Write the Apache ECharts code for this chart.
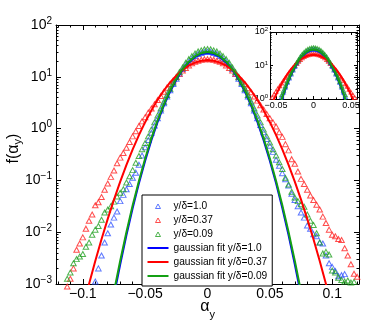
<!DOCTYPE html>
<html>
<head>
<meta charset="utf-8">
<script src="https://cdn.jsdelivr.net/npm/echarts@6/dist/echarts.min.js"></script>
<style>
  html, body { margin: 0; padding: 0; background: #fff; }
  #chart { width: 374px; height: 328px; }
</style>
</head>
<body>
<div id="chart"></div>
<script>
// bin centres of the measured pdfs (alpha_y)
const alphaBins = [
  -0.1125, -0.11, -0.1075, -0.105, -0.1025, -0.1, -0.0975, -0.095, -0.0925, -0.09,
  -0.0875, -0.085, -0.0825, -0.08, -0.0775, -0.075, -0.0725, -0.07, -0.0675, -0.065,
  -0.0625, -0.06, -0.0575, -0.055, -0.0525, -0.05, -0.0475, -0.045, -0.0425, -0.04,
  -0.0375, -0.035, -0.0325, -0.03, -0.0275, -0.025, -0.0225, -0.02, -0.0175, -0.015,
  -0.0125, -0.01, -0.0075, -0.005, -0.0025, 0, 0.0025, 0.005, 0.0075, 0.01,
  0.0125, 0.015, 0.0175, 0.02, 0.0225, 0.025, 0.0275, 0.03, 0.0325, 0.035,
  0.0375, 0.04, 0.0425, 0.045, 0.0475, 0.05, 0.0525, 0.055, 0.0575, 0.06,
  0.0625, 0.065, 0.0675, 0.07, 0.0725, 0.075, 0.0775, 0.08, 0.0825, 0.085,
  0.0875, 0.09, 0.0925, 0.095, 0.0975, 0.1, 0.1025, 0.105, 0.1075, 0.11,
  0.1125, 0.115, 0.1175, 0.12
];

// y/delta = 1.0
const pdfBlue = [
  null, null, null, null, null, null, null, null, null, 0.00112,
  0.00200, 0.00355, 0.00631, 0.00955, 0.0141, 0.0191, 0.0251, 0.0398, 0.0525, 0.0676,
  0.0851, 0.112, 0.141, 0.200, 0.302, 0.437, 0.603, 0.832, 1.15, 1.58,
  2.24, 3.09, 4.17, 5.50, 7.24, 9.12, 11.5, 14.1, 17.0, 19.5,
  22.4, 25.1, 27.5, 28.8, 30.2, 30.5, 30.2, 28.8, 27.5, 25.1,
  22.4, 19.5, 17.0, 14.1, 11.5, 9.12, 7.24, 5.50, 4.17, 3.09,
  2.24, 1.58, 1.17, 0.851, 0.631, 0.468, 0.355, 0.251, 0.191, 0.138,
  0.105, 0.0794, 0.0550, 0.0417, 0.0316, 0.0240, 0.0191, 0.0135, 0.0117, 0.00912,
  0.00832, 0.00631, 0.00603, 0.00355, 0.00251, 0.00214, 0.00178, 0.00141, 0.00148, 0.00155,
  null, null, null, null
];

// y/delta = 0.37
const pdfRed = [
  0.000891, 0.00126, 0.00200, 0.00457, 0.00603, 0.00794, 0.0117, 0.0166, 0.0219, 0.0331,
  0.0380, 0.0479, 0.0661, 0.0871, 0.117, 0.155, 0.214, 0.275, 0.339, 0.427,
  0.550, 0.708, 0.891, 1.12, 1.38, 1.66, 2.04, 2.45, 2.95, 3.55,
  4.27, 5.13, 6.17, 7.24, 8.51, 10.0, 11.5, 13.2, 14.8, 16.6,
  18.2, 19.5, 20.4, 21.4, 21.9, 21.9, 21.9, 21.4, 20.4, 19.5,
  18.2, 16.6, 14.8, 13.2, 11.5, 10.0, 8.51, 7.24, 6.03, 5.01,
  4.17, 3.47, 2.82, 2.34, 1.91, 1.58, 1.32, 1.10, 0.851, 0.692,
  0.501, 0.380, 0.257, 0.209, 0.148, 0.107, 0.0851, 0.0661, 0.0513, 0.0417,
  0.0339, 0.0275, 0.0200, 0.0151, 0.0112, 0.00891, 0.00832, 0.00741, 0.00708, 0.00490,
  0.00355, 0.00240, 0.00158, 0.00138
];

// y/delta = 0.09
const pdfGreen = [
  0.00126, 0.00166, 0.00251, 0.00302, 0.00339, 0.00380, 0.00525, 0.00631, 0.00891, 0.0112,
  0.0132, 0.0174, 0.0240, 0.0275, 0.0316, 0.0389, 0.0490, 0.0575, 0.0676, 0.0912,
  0.120, 0.158, 0.219, 0.295, 0.398, 0.525, 0.708, 0.955, 1.32, 1.78,
  2.45, 3.31, 4.47, 5.89, 7.76, 9.77, 12.3, 15.1, 18.6, 21.9,
  25.1, 28.2, 30.9, 32.4, 33.9, 34.3, 33.9, 32.4, 30.9, 28.2,
  25.1, 21.9, 18.6, 15.1, 12.3, 9.77, 7.76, 5.89, 4.47, 3.31,
  2.45, 1.78, 1.32, 0.955, 0.708, 0.537, 0.398, 0.302, 0.224, 0.166,
  0.112, 0.0832, 0.0603, 0.0468, 0.0398, 0.0347, 0.0309, 0.0219, 0.0166, 0.0138,
  0.00955, 0.00631, 0.00389, 0.00417, 0.00372, 0.00182, 0.00166, 0.00132, 0.00120, 0.00112,
  0.00117, 0.00107, 0.00110, null
];

// gaussian fits
const fitX = [
  -0.105, -0.1, -0.095, -0.09, -0.085, -0.08, -0.075, -0.07, -0.065, -0.06, -0.055,
  -0.05, -0.045, -0.04, -0.035, -0.03, -0.025, -0.02, -0.015, -0.01, -0.005, 0,
  0.005, 0.01, 0.015, 0.02, 0.025, 0.03, 0.035, 0.04, 0.045, 0.05,
  0.055, 0.06, 0.065, 0.07, 0.075, 0.08, 0.085, 0.09, 0.095, 0.1, 0.105
];
const fitBlue = [
  null, null, null, null, null, 0.000136, 0.000601, 0.00241, 0.00881, 0.0292, 0.0879,
  0.240, 0.597, 1.35, 2.77, 5.16, 8.75, 13.5, 18.8, 23.9, 27.6, 29.0,
  27.6, 23.9, 18.8, 13.5, 8.75, 5.16, 2.77, 1.35, 0.597, 0.240,
  0.0879, 0.0292, 0.00881, 0.00241, 0.000601, 0.000136, null, null, null, null, null
];
const fitRed = [
  0.000110, 0.000342, 0.00100, 0.00278, 0.00729, 0.0181, 0.0426, 0.0946, 0.199, 0.396, 0.748,
  1.33, 2.25, 3.60, 5.44, 7.78, 10.5, 13.5, 16.4, 18.8, 20.4, 21.0,
  20.4, 18.8, 16.4, 13.5, 10.5, 7.78, 5.44, 3.60, 2.25, 1.33,
  0.748, 0.396, 0.199, 0.0946, 0.0426, 0.0181, 0.00729, 0.00278, 0.00100, 0.000342, 0.000110
];
const fitGreen = [
  null, null, null, null, null, 0.000164, 0.000713, 0.00281, 0.0101, 0.0330, 0.0977,
  0.264, 0.649, 1.45, 2.95, 5.46, 9.18, 14.1, 19.6, 24.8, 28.6, 30.0,
  28.6, 24.8, 19.6, 14.1, 9.18, 5.46, 2.95, 1.45, 0.649, 0.264,
  0.0977, 0.0330, 0.0101, 0.00281, 0.000713, 0.000164, null, null, null, null, null
];

// ticks
const xTicks = [-0.1, -0.05, 0, 0.05, 0.1];
const xMinor = [-0.12, -0.11, -0.1, -0.09, -0.08, -0.07, -0.06, -0.05, -0.04, -0.03, -0.02, -0.01, 0,
  0.01, 0.02, 0.03, 0.04, 0.05, 0.06, 0.07, 0.08, 0.09, 0.1, 0.11, 0.12];
const yDecades = [1e-3, 1e-2, 1e-1, 1, 10, 100];
const yMinor = [2e-3, 3e-3, 4e-3, 5e-3, 6e-3, 7e-3, 8e-3, 9e-3,
  0.02, 0.03, 0.04, 0.05, 0.06, 0.07, 0.08, 0.09,
  0.2, 0.3, 0.4, 0.5, 0.6, 0.7, 0.8, 0.9,
  2, 3, 4, 5, 6, 7, 8, 9,
  20, 30, 40, 50, 60, 70, 80, 90];
const insetXTicks = [-0.05, 0, 0.05];
const insetXMinor = [-0.05, -0.04, -0.03, -0.02, -0.01, 0, 0.01, 0.02, 0.03, 0.04, 0.05];
const insetDecades = [1, 10, 100];
const insetYMinor = [2, 3, 4, 5, 6, 7, 8, 9, 20, 30, 40, 50, 60, 70, 80, 90];

const names = ['y/δ=1.0', 'y/δ=0.37', 'y/δ=0.09',
  'gaussian fit y/δ=1.0', 'gaussian fit y/δ=0.37', 'gaussian fit y/δ=0.09'];
const colors = { blue: '#3355ff', red: '#ff2020', green: '#22a022' };
const lineColors = { blue: '#0000ff', red: '#ff0000', green: '#14a014' };
const font = 'Liberation Sans, Arial, sans-serif';

const pairs = (xs, ys) => xs.map((x, i) => ys[i] == null ? null : [x, ys[i]]).filter(Boolean);
const minus = v => (v < 0 ? '\u2212' + (-v) : String(v));

const chart = echarts.init(document.getElementById('chart'));

function xAx(grid, pos, range, ticks, len, label, line) {
  return {
    type: 'value', gridIndex: grid, position: pos, min: range[0], max: range[1],
    axisLine: { show: line, onZero: false, lineStyle: { color: '#000', width: 1 } },
    axisTick: { show: true, inside: true, length: len, customValues: ticks, lineStyle: { color: '#000', width: 1 } },
    axisLabel: label || { show: false },
    splitLine: { show: false }
  };
}
function yAx(grid, pos, range, ticks, len, label, line) {
  return {
    type: 'log', logBase: 10, gridIndex: grid, position: pos, min: range[0], max: range[1],
    axisLine: { show: line, onZero: false, lineStyle: { color: '#000', width: 1 } },
    axisTick: { show: true, inside: true, length: len, customValues: ticks, lineStyle: { color: '#000', width: 1 } },
    axisLabel: label || { show: false },
    splitLine: { show: false }
  };
}
function decadeLabel(fs, values, margin) {
  return {
    show: true, margin: margin, customValues: values,
    formatter: v => {
      const e = Math.round(Math.log10(v));
      return '{b|10}{e|' + minus(e) + '}';
    },
    rich: {
      b: { fontFamily: font, fontSize: fs, color: '#000' },
      e: { fontFamily: font, fontSize: Math.round(fs * 0.7), color: '#000', verticalAlign: 'top', padding: [0, 0, Math.round(fs * 0.6), 0] }
    }
  };
}
function tickLabel(fs, values, margin) {
  return { show: true, margin: margin, customValues: values, fontFamily: font, fontSize: fs, color: '#000', formatter: minus };
}

const mainX = [-0.1215, 0.1215];
const mainY = [1e-3, 100];
const insX = [-0.058, 0.058];
const insY = [1, 100];

const xAxes = [
  xAx(0, 'bottom', mainX, xTicks, 5, tickLabel(14, xTicks, 3), true),
  xAx(0, 'top', mainX, xTicks, 5, null, true),
  xAx(0, 'bottom', mainX, xMinor, 2.5, null, false),
  xAx(0, 'top', mainX, xMinor, 2.5, null, false),
  xAx(1, 'bottom', insX, insetXTicks, 3, tickLabel(9, insetXTicks, 2), true),
  xAx(1, 'top', insX, insetXTicks, 3, null, true),
  xAx(1, 'bottom', insX, insetXMinor, 1.5, null, false),
  xAx(1, 'top', insX, insetXMinor, 1.5, null, false)
];
Object.assign(xAxes[0], {
  name: '{a|α}{s|y}', nameLocation: 'middle', nameGap: 15, nameMoveOverlap: false,
  nameTextStyle: {
    rich: {
      a: { fontFamily: font, fontSize: 16, color: '#000', verticalAlign: 'top' },
      s: { fontFamily: font, fontSize: 11, color: '#000', verticalAlign: 'bottom', padding: [10, 0, 0, 0] }
    }
  }
});

const yAxes = [
  yAx(0, 'left', mainY, yDecades, 5, decadeLabel(14, yDecades, 4), true),
  yAx(0, 'right', mainY, yDecades, 5, null, true),
  yAx(0, 'left', mainY, yMinor, 2.5, null, false),
  yAx(0, 'right', mainY, yMinor, 2.5, null, false),
  yAx(1, 'left', insY, insetDecades, 3, decadeLabel(9, insetDecades, 2), true),
  yAx(1, 'right', insY, insetDecades, 3, null, true),
  yAx(1, 'left', insY, insetYMinor, 1.5, null, false),
  yAx(1, 'right', insY, insetYMinor, 1.5, null, false)
];
Object.assign(yAxes[0], {
  name: '{a|f(α}{s|y}{a|)}', nameLocation: 'middle', nameRotate: 90, nameGap: 33, nameMoveOverlap: false,
  nameTextStyle: {
    padding: [0, 0, 0, 12],
    rich: {
      a: { fontFamily: font, fontSize: 16, color: '#000', verticalAlign: 'top' },
      s: { fontFamily: font, fontSize: 11, color: '#000', verticalAlign: 'bottom', padding: [6, 0, 0, 0] }
    }
  }
});

function scatter(name, ys, color, xi, size, clip) {
  return {
    name: name, type: 'scatter', xAxisIndex: xi, yAxisIndex: xi,
    data: pairs(alphaBins, ys), symbol: 'triangle', symbolSize: size, clip: clip,
    itemStyle: { color: 'rgba(0,0,0,0)', borderColor: color, borderWidth: 1 },
    z: 2
  };
}
function fit(name, ys, color, xi, width) {
  return {
    name: name, type: 'line', xAxisIndex: xi, yAxisIndex: xi,
    data: pairs(fitX, ys), symbol: 'none', showSymbol: false, clip: true,
    lineStyle: { color: color, width: width }, itemStyle: { color: color },
    z: 3
  };
}

// legend icons in a 21x6 box: small hollow triangle centred, or a 2px line
const triIcon = 'path://M0,0 M21,6 M8,5.5 L10.5,1 L13,5.5 Z';
const lineIcon = 'path://M0,2 L21,2 L21,4 L0,4 Z M0,0 M21,6';
const markerColors = [colors.blue, colors.red, colors.green];
const fitColors = [lineColors.blue, lineColors.red, lineColors.green];

chart.setOption({
  animation: false,
  backgroundColor: '#fff',
  textStyle: { fontFamily: font },
  grid: [
    { left: 56, top: 25, width: 303, height: 259, containLabel: false, outerBoundsMode: 'none' },
    { left: 270, top: 32, width: 87, height: 67, containLabel: false, outerBoundsMode: 'none', show: true, backgroundColor: '#fff', borderWidth: 0 }
  ],
  xAxis: xAxes,
  yAxis: yAxes,
  legend: {
    orient: 'vertical', left: 142, top: 195,
    data: names.map((n, i) => (i < 3
      ? { name: n, icon: triIcon, itemStyle: { color: 'rgba(0,0,0,0)', borderColor: markerColors[i], borderWidth: 1 } }
      : { name: n, icon: lineIcon, itemStyle: { color: fitColors[i - 3], borderWidth: 0 } })),
    selectedMode: false,
    itemWidth: 21, itemHeight: 6, itemGap: 4,
    padding: [6, 5, 5, 5],
    borderColor: '#000', borderWidth: 1, borderRadius: 0, backgroundColor: '#fff',
    textStyle: { fontFamily: font, fontSize: 10.2, color: '#000' }
  },
  series: [
    scatter(names[0], pdfBlue, colors.blue, 0, [5.5, 5], false),
    scatter(names[1], pdfRed, colors.red, 0, [5.5, 5], false),
    scatter(names[2], pdfGreen, colors.green, 0, [5.5, 5], false),
    fit(names[3], fitBlue, lineColors.blue, 0, 2),
    fit(names[4], fitRed, lineColors.red, 0, 2),
    fit(names[5], fitGreen, lineColors.green, 0, 2),
    scatter(names[0], pdfBlue, colors.blue, 4, [4, 3.5], true),
    scatter(names[1], pdfRed, colors.red, 4, [4, 3.5], true),
    scatter(names[2], pdfGreen, colors.green, 4, [4, 3.5], true),
    fit(names[3], fitBlue, lineColors.blue, 4, 2),
    fit(names[4], fitRed, lineColors.red, 4, 2),
    fit(names[5], fitGreen, lineColors.green, 4, 2)
  ]
});
</script>
</body>
</html>
